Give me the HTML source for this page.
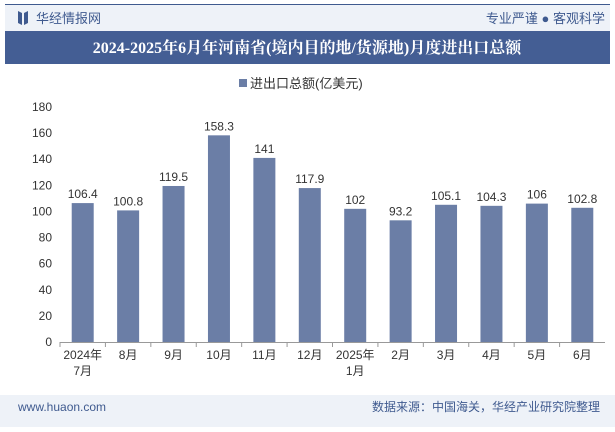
<!DOCTYPE html>
<html><head><meta charset="utf-8"><style>
body{margin:0;width:615px;height:427px;overflow:hidden;background:#fff;font-family:"Liberation Sans","Noto Sans CJK SC",sans-serif;}
</style></head><body>
<svg width="615" height="427" xmlns="http://www.w3.org/2000/svg">
<rect x="0" y="0" width="615" height="427" fill="#fff"/>
<rect x="5" y="4" width="605" height="1.5" fill="#3f5a8f"/>
<rect x="5" y="5" width="605" height="26" fill="#eef2f8"/>
<path d="M18 11 L22 13 L22 25 L18 23 Z M24 13 L28 11 L28 23 L24 25 Z" fill="#3f5a8f"/>
<text x="36" y="23" font-size="13" fill="#3f5a8f">华经情报网</text>
<text x="605" y="23" font-size="13" fill="#3f5a8f" text-anchor="end">专业严谨 ● 客观科学</text>
<rect x="5" y="31" width="605" height="33" fill="#445e94"/>
<text x="307" y="53" font-size="16" font-weight="bold" fill="#fff" text-anchor="middle" font-family="'Liberation Serif','Noto Serif CJK SC',serif">2024-2025年6月年河南省(境内目的地/货源地)月度进出口总额</text>
<rect x="239" y="79" width="8" height="8" fill="#6b7ea6"/>
<text x="250" y="88" font-size="13" fill="#333">进出口总额(亿美元)</text>
<g id="axes"></g>
<g id="bars"></g>
<rect x="0" y="395" width="615" height="32" fill="#eef2f8"/>
<text x="18" y="411" font-size="12" fill="#3f5a8f">www.huaon.com</text>
<text x="600" y="411" font-size="12" fill="#3f5a8f" text-anchor="end">数据来源：中国海关，华经产业研究院整理</text>
</svg>
<script>
const categories=["2024年\n7月","8月","9月","10月","11月","12月","2025年\n1月","2月","3月","4月","5月","6月"];
const values=[106.4,100.8,119.5,158.3,141,117.9,102,93.2,105.1,104.3,106,102.8];
const yTicks=[0,20,40,60,80,100,120,140,160,180];
const NS="http://www.w3.org/2000/svg";
const x0=60,x1=605,yBase=342,yTop=107,yMax=180;
const step=(x1-x0)/categories.length;
const yS=v=>yBase-(v/yMax)*(yBase-yTop);
const xC=i=>x0+step*(i+0.5);
function mk(t,a,p){const e=document.createElementNS(NS,t);for(const k in a)e.setAttribute(k,a[k]);p.appendChild(e);return e;}
const ax=document.getElementById('axes'),bg=document.getElementById('bars');
yTicks.forEach(t=>{
 const tx=mk('text',{x:x0-8,y:yS(t)+4,'font-size':12,fill:'#333','text-anchor':'end'},ax);
 tx.textContent=t;
 
 
});
const axl=mk('line',{x1:x0,x2:x1,y1:yBase+0.5,y2:yBase+0.5,stroke:'#999'},ax);


categories.forEach((c,i)=>{
 const cx=xC(i),v=values[i];
 const r=mk('rect',{x:cx-11,y:yS(v),width:22,height:yBase-yS(v),fill:'#6b7ea6'},bg);
 
 
 const vl=mk('text',{x:cx,y:yS(v)-5,'font-size':12,fill:'#333','text-anchor':'middle'},bg);
 vl.textContent=v;
 
 
 const tk=mk('line',{x1:x0+step*i,x2:x0+step*i,y1:yBase,y2:yBase+5,stroke:'#999'},ax);
 
 
 c.split('\n').forEach((ln,j)=>{
  const t=mk('text',{x:cx,y:yBase+17+j*16,'font-size':12,fill:'#333','text-anchor':'middle'},ax);
  t.textContent=ln;
  
  
 });
});
</script>
</body></html>
